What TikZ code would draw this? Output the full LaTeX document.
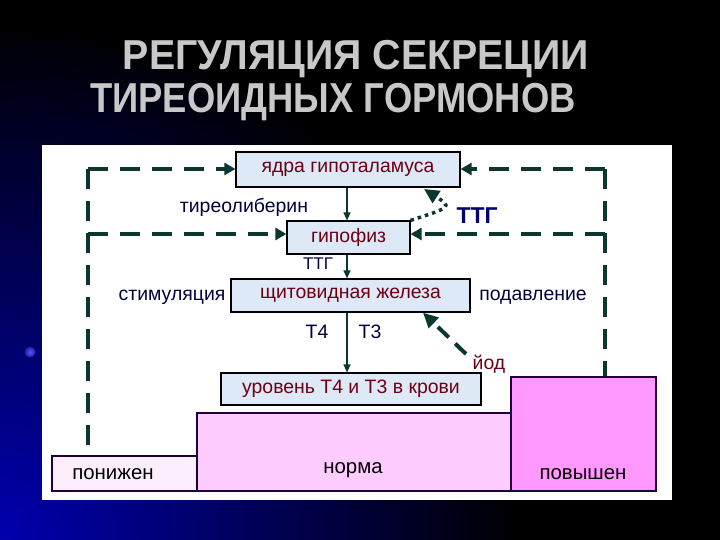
\documentclass[tikz,border=0pt]{standalone}
\usepackage{fontspec}
\setmainfont{Liberation Sans}
\newfontfamily\titlefontA[FakeStretch=0.94]{Liberation Sans}
\newfontfamily\titlefontB[FakeStretch=0.87]{Liberation Sans}
\newfontfamily\labfont{Liberation Sans}
\usetikzlibrary{arrows.meta}
\definecolor{dashc}{RGB}{12,55,48}
\definecolor{boxfill}{RGB}{221,233,246}
\definecolor{dred}{RGB}{110,0,20}
\definecolor{navy}{RGB}{0,0,60}
\definecolor{ttgblue}{RGB}{0,0,110}
\definecolor{titlec}{RGB}{200,200,200}
\definecolor{lowc}{RGB}{253,238,253}
\definecolor{normc}{RGB}{255,204,255}
\definecolor{highc}{RGB}{255,153,255}
\definecolor{barline}{RGB}{30,0,60}
\definecolor{bgblue}{RGB}{0,0,175}
\tikzset{
  organ/.style={draw=black, line width=1.2bp, fill=boxfill, inner sep=0pt,
    text=dred, font=\labfont\fontsize{19.5}{19.5}\selectfont},
  barbox/.style={draw=barline, line width=1.5bp, inner sep=0pt},
  barlab/.style={font=\labfont\fontsize{20.5}{20.5}\selectfont, text=black, inner sep=0pt},
  lab/.style={font=\labfont\fontsize{19.5}{19.5}\selectfont, text=navy, inner sep=0pt},
  feedback/.style={draw=dashc, line width=4bp, dash pattern=on 20bp off 12bp},
  fbarrow/.style={feedback, -{Triangle[length=11bp,width=12bp]}},
  flow/.style={draw=dashc, line width=1.3bp, -{Triangle[length=8bp,width=7bp]}},
  titletext/.style={font=\bfseries\fontsize{42}{42}\selectfont, text=titlec, inner sep=0pt}
}
\begin{document}
\begin{tikzpicture}[x=1bp,y=-1bp]
\useasboundingbox (0,0) rectangle (720,540);
\fill[black] (0,0) rectangle (720,540);
\shade[inner color=bgblue, outer color=black] (0,540) circle (520);
\shade[inner color={rgb,255:red,90;green,90;blue,245}, outer color={rgb,255:red,25;green,25;blue,165}] (30,352) circle (5.5);
\fill[white] (42,145) rectangle (672,500);

\node[titletext, font=\titlefontA\bfseries\fontsize{42}{42}\selectfont] (t1) at (356,59) {РЕГУЛЯЦИЯ СЕКРЕЦИИ};
\node[titletext, font=\titlefontB\bfseries\fontsize{42}{42}\selectfont, anchor=west] (t2) at (90,102) {ТИРЕОИДНЫХ ГОРМОНОВ};

% level bars
\node[barbox, fill=lowc, minimum width=145bp, minimum height=35bp] (low) at (124.5,473.5) {};
\node[barbox, fill=normc, minimum width=314bp, minimum height=78bp] (norm) at (354,452) {};
\node[barbox, fill=highc, minimum width=145bp, minimum height=114bp] (high) at (583.5,434) {};
\node[barlab] (lowt) at (113,474) {понижен};
\node[barlab] (normt) at (353,470) {норма};
\node[barlab] (hight) at (583,474) {повышен};

% organs
\node[organ, minimum width=224bp, minimum height=35bp] (hyp) at (348,169.5) {ядра гипоталамуса};
\node[organ, minimum width=123bp, minimum height=33bp] (pit) at (348.5,237.5) {гипофиз};
\node[organ, minimum width=239bp, minimum height=33bp] (thy) at (350.5,295.5) {щитовидная железа};
\node[organ, minimum width=260bp, minimum height=32bp] (lvl) at (351,389) {уровень Т4 и Т3 в крови};

% feedback loops
\coordinate (lt) at (88,169);
\coordinate (lm) at (88,234);
\coordinate (lb) at (88,447);
\coordinate (rt) at (605,169);
\coordinate (rm) at (605,234);
\coordinate (rb) at (605,376);
\path[feedback] (lt) -- (lb);
\path[feedback] (rt) -- (rb);
\path[fbarrow] (lt) -- (hyp.west |- lt);
\path[fbarrow] (lm) -- (pit.west |- lm);
\path[fbarrow] (rt) -- (hyp.east |- rt);
\path[fbarrow] (rm) -- (pit.east |- rm);

% main flow
\coordinate (ax) at (347,0);
\path[flow] (hyp.south -| ax) -- (pit.north -| ax);
\path[flow] (pit.south -| ax) -- (thy.north -| ax);
\path[flow] (thy.south -| ax) -- (lvl.north -| ax);

% TTG inhibition (dotted)
\coordinate (ttgtip) at (424,189);
\path[draw=dashc, line width=3.5bp, dash pattern=on 3.5bp off 4bp, -{Triangle[length=15bp,width=14bp]}]
  (pit.north east) .. controls (452,207) .. (ttgtip);

% iodine
\coordinate (iod) at (466,354);
\coordinate (ix) at (423,0);
\path[draw=dashc, line width=4bp, dash pattern=on 15bp off 9bp, -{Triangle[length=15bp,width=14bp]}]
  (iod) -- (thy.south -| ix);

% labels
\node[lab] (lib) at (244,207) {тиреолиберин};
\node[font=\labfont\bfseries\fontsize{23}{23}\selectfont, text=ttgblue, inner sep=0pt] (ttg1) at (477,216) {ТТГ};
\node[lab, font=\labfont\fontsize{17}{17}\selectfont] (ttg2) at (318,264) {ТТГ};
\node[lab] (stim) at (172,297) {стимуляция};
\node[lab] (supp) at (533,297) {подавление};
\node[lab] (t4) at (317,332) {Т4};
\node[lab] (t3) at (370,332) {Т3};
\node[lab, text=dred] (iodt) at (489,364) {йод};
\end{tikzpicture}
\end{document}
